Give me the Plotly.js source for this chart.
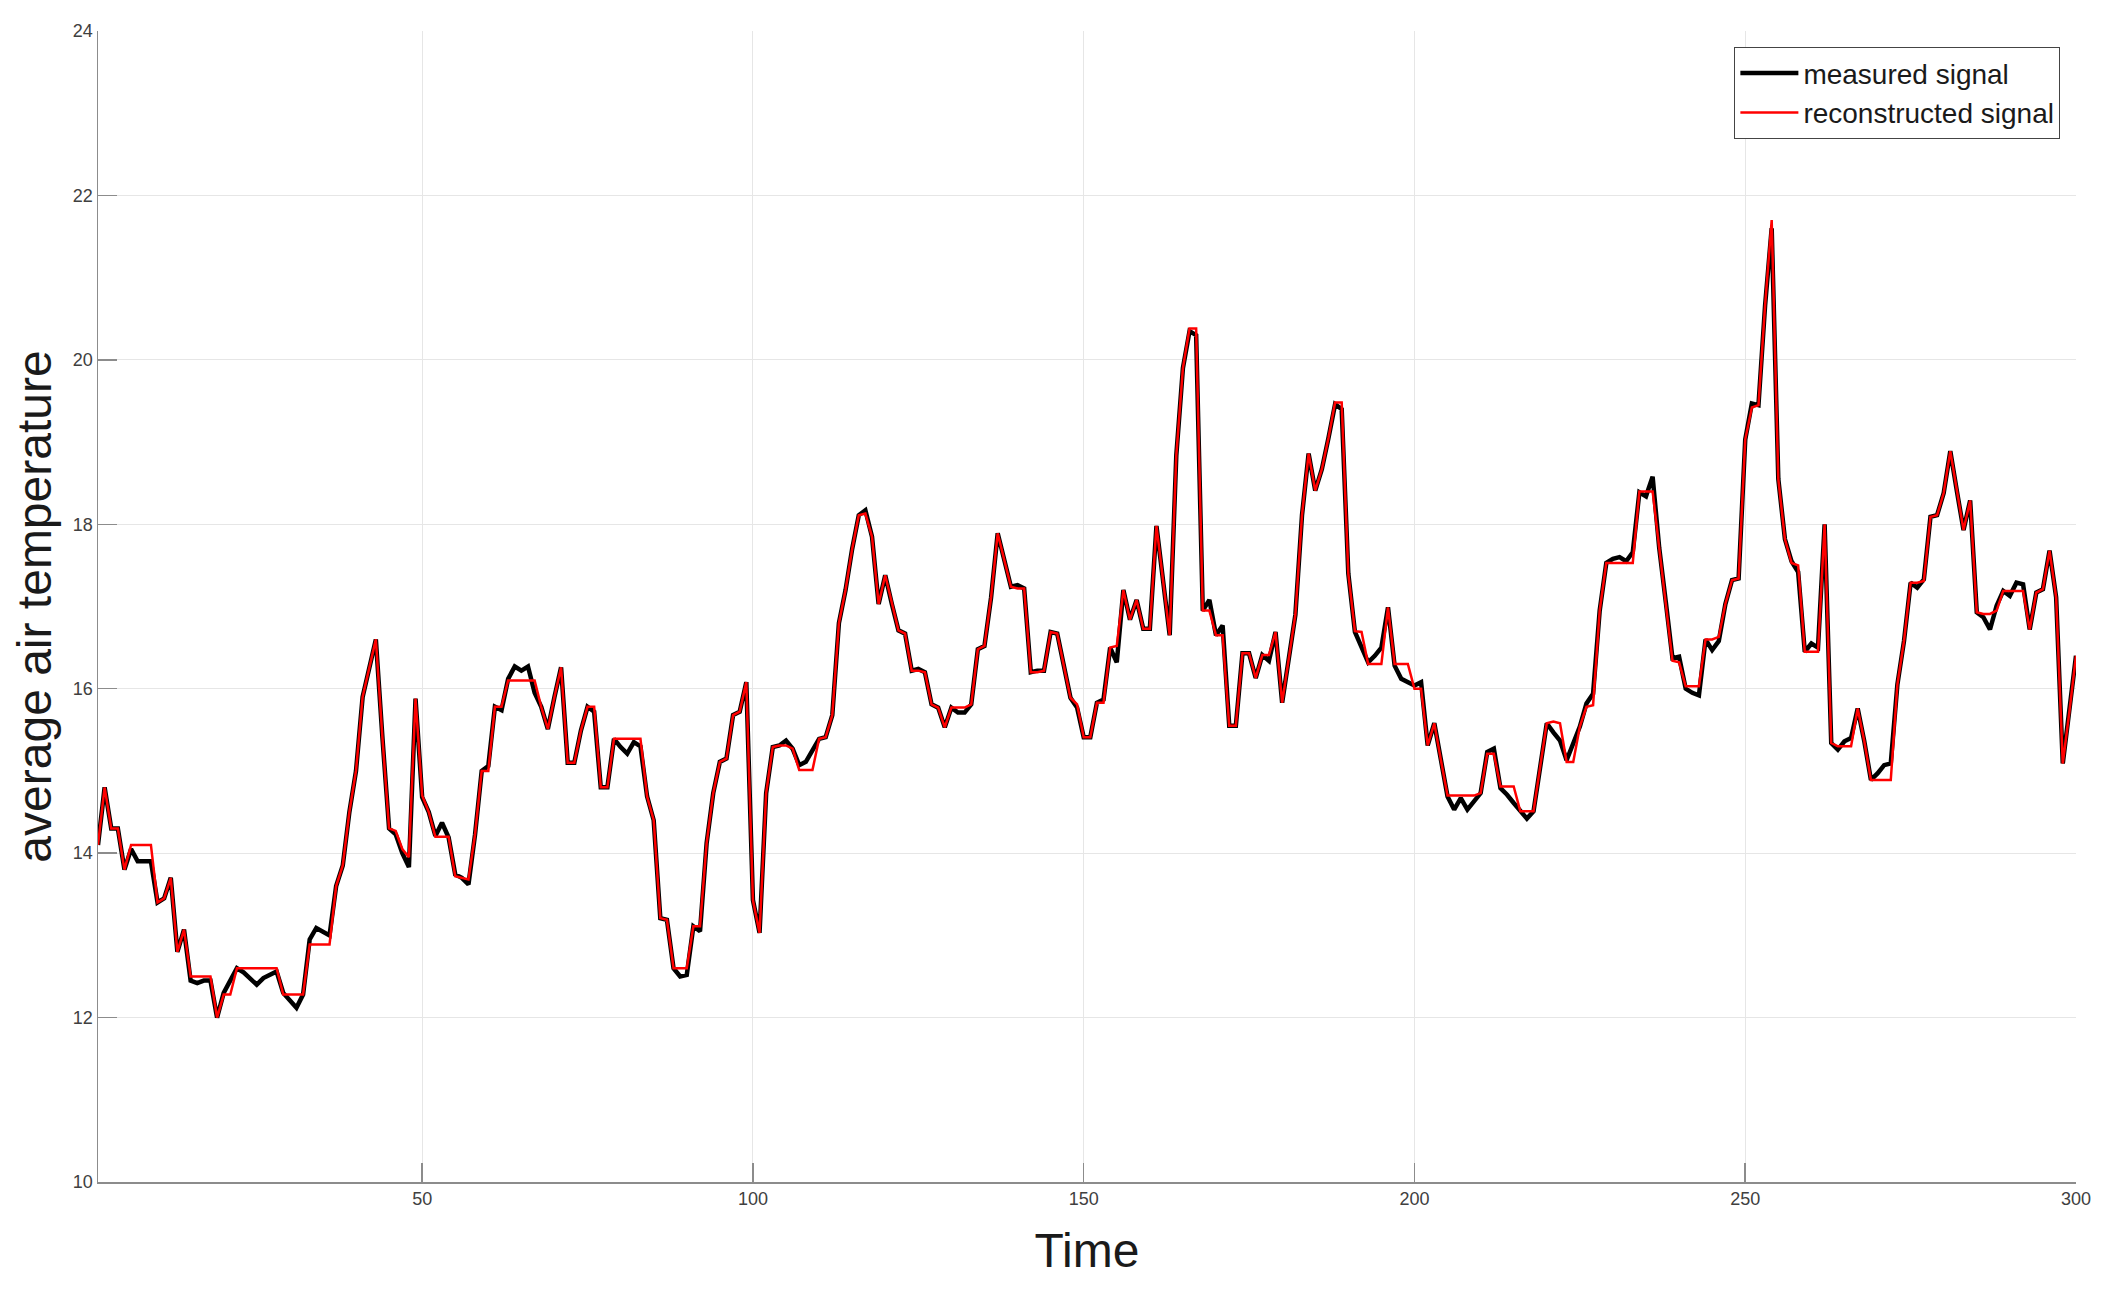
<!DOCTYPE html>
<html>
<head>
<meta charset="utf-8">
<script src="https://cdn.plot.ly/plotly-3.0.1.min.js"></script>
<style>html,body{margin:0;padding:0;background:#fff;}#chart{width:2113px;height:1291px;}</style>
</head>
<body>
<div id="chart"></div>
<script>
const seriesNames = ["measured signal", "reconstructed signal"];
const xTickValues = [50, 100, 150, 200, 250, 300];
const yTickValues = [10, 12, 14, 16, 18, 20, 22, 24];

const measured = [
  14.1, 14.8, 14.3, 14.3, 13.8, 14.05, 13.9, 13.9, 13.9, 13.4,
  13.45, 13.7, 12.8, 13.07, 12.45, 12.42, 12.45, 12.45, 12.0, 12.3,
  12.45, 12.6, 12.55, 12.48, 12.4, 12.48, 12.52, 12.56, 12.3, 12.2,
  12.12, 12.28, 12.95, 13.09, 13.05, 13.0, 13.6, 13.85, 14.5, 15.0,
  15.9, 16.26, 16.6, 15.4, 14.3, 14.23, 14.0, 13.83, 15.88, 14.68,
  14.5, 14.21, 14.37, 14.19, 13.74, 13.7, 13.62, 14.23, 15.0, 15.06,
  15.78, 15.74, 16.12, 16.27, 16.22, 16.27, 15.95, 15.78, 15.51, 15.9,
  16.26, 15.1, 15.1, 15.49, 15.78, 15.72, 14.8, 14.8, 15.39, 15.29,
  15.21, 15.35, 15.3, 14.69, 14.4, 13.21, 13.19, 12.6, 12.5, 12.52,
  13.11, 13.05, 14.12, 14.73, 15.11, 15.15, 15.68, 15.72, 16.08, 13.43,
  13.03, 14.73, 15.29, 15.31, 15.37, 15.27, 15.07, 15.11, 15.25, 15.39,
  15.41, 15.68, 16.8, 17.2, 17.7, 18.11, 18.17, 17.85, 17.03, 17.38,
  17.03, 16.71, 16.67, 16.22, 16.24, 16.2, 15.81, 15.77, 15.53, 15.77,
  15.71, 15.71, 15.81, 16.48, 16.52, 17.11, 17.89, 17.56, 17.24, 17.26,
  17.22, 16.2, 16.22, 16.22, 16.69, 16.67, 16.26, 15.89, 15.77, 15.41,
  15.41, 15.83, 15.87, 16.5, 16.32, 17.2, 16.84, 17.08, 16.73, 16.73,
  17.98, 17.3, 16.65, 18.84, 19.9, 20.35, 20.3, 16.95, 17.08, 16.65,
  16.77, 15.55, 15.55, 16.43, 16.43, 16.13, 16.41, 16.34, 16.69, 15.83,
  16.39, 16.9, 18.11, 18.86, 18.41, 18.67, 19.05, 19.46, 19.4, 17.4,
  16.69, 16.5, 16.32, 16.4, 16.5, 16.99, 16.28, 16.12, 16.08, 16.04,
  16.08, 15.31, 15.58, 15.13, 14.69, 14.53, 14.67, 14.53, 14.63, 14.73,
  15.23, 15.27, 14.79, 14.71, 14.61, 14.51, 14.42, 14.51, 15.05, 15.58,
  15.47, 15.37, 15.13, 15.33, 15.54, 15.82, 15.94, 16.95, 17.53, 17.58,
  17.6, 17.55, 17.66, 18.39, 18.34, 18.58, 17.71, 17.05, 16.37, 16.39,
  16.0, 15.95, 15.92, 16.6, 16.47, 16.58, 17.03, 17.32, 17.34, 19.03,
  19.47, 19.45, 20.66, 21.6, 18.55, 17.82, 17.55, 17.42, 16.45, 16.55,
  16.5, 18.0, 15.34, 15.26, 15.36, 15.4, 15.76, 15.36, 14.89, 14.97,
  15.07, 15.09, 16.05, 16.58, 17.29, 17.23, 17.33, 18.09, 18.11, 18.38,
  18.89, 18.4, 17.93, 18.29, 16.93, 16.87, 16.72, 17.01, 17.19, 17.13,
  17.29, 17.27, 16.72, 17.17, 17.21, 17.68, 17.11, 15.09, 15.72, 16.4
];

const reconstructed = [
  14.1, 14.8, 14.3, 14.3, 13.8, 14.1, 14.1, 14.1, 14.1, 13.4,
  13.45, 13.7, 12.8, 13.07, 12.5, 12.5, 12.5, 12.5, 12.0, 12.28,
  12.28, 12.6, 12.6, 12.6, 12.6, 12.6, 12.6, 12.6, 12.28, 12.28,
  12.28, 12.28, 12.89, 12.89, 12.89, 12.89, 13.6, 13.85, 14.5, 15.0,
  15.9, 16.26, 16.6, 15.4, 14.3, 14.27, 14.05, 13.95, 15.88, 14.7,
  14.5, 14.2, 14.2, 14.2, 13.72, 13.7, 13.68, 14.23, 15.0, 15.0,
  15.78, 15.78, 16.1, 16.1, 16.1, 16.1, 16.1, 15.78, 15.51, 15.9,
  16.26, 15.1, 15.1, 15.49, 15.78, 15.78, 14.8, 14.8, 15.39, 15.39,
  15.39, 15.39, 15.39, 14.69, 14.4, 13.21, 13.19, 12.6, 12.6, 12.6,
  13.11, 13.11, 14.12, 14.73, 15.11, 15.15, 15.68, 15.72, 16.08, 13.43,
  13.03, 14.73, 15.29, 15.31, 15.31, 15.27, 15.01, 15.01, 15.01, 15.39,
  15.41, 15.68, 16.8, 17.2, 17.7, 18.11, 18.13, 17.85, 17.03, 17.38,
  17.03, 16.71, 16.67, 16.22, 16.22, 16.2, 15.81, 15.77, 15.53, 15.77,
  15.77, 15.77, 15.81, 16.48, 16.52, 17.11, 17.89, 17.56, 17.24, 17.22,
  17.22, 16.2, 16.2, 16.22, 16.69, 16.67, 16.26, 15.89, 15.81, 15.41,
  15.41, 15.83, 15.83, 16.5, 16.52, 17.2, 16.84, 17.08, 16.73, 16.73,
  17.98, 17.3, 16.65, 18.84, 19.9, 20.38, 20.38, 16.95, 16.95, 16.65,
  16.65, 15.55, 15.55, 16.43, 16.43, 16.13, 16.41, 16.41, 16.69, 15.83,
  16.39, 16.9, 18.11, 18.86, 18.41, 18.67, 19.05, 19.48, 19.48, 17.4,
  16.7, 16.69, 16.3, 16.3, 16.3, 16.99, 16.3, 16.3, 16.3, 16.0,
  16.0, 15.31, 15.58, 15.13, 14.7, 14.7, 14.7, 14.7, 14.7, 14.73,
  15.21, 15.21, 14.81, 14.81, 14.81, 14.51, 14.51, 14.51, 15.05, 15.58,
  15.6, 15.58, 15.11, 15.11, 15.54, 15.78, 15.8, 16.95, 17.53, 17.53,
  17.53, 17.53, 17.53, 18.4, 18.4, 18.4, 17.71, 17.05, 16.34, 16.32,
  16.03, 16.03, 16.03, 16.6, 16.6, 16.63, 17.03, 17.32, 17.34, 19.03,
  19.42, 19.45, 20.66, 21.7, 18.55, 17.82, 17.53, 17.5, 16.45, 16.45,
  16.45, 18.0, 15.34, 15.3, 15.3, 15.3, 15.76, 15.36, 14.89, 14.89,
  14.89, 14.89, 16.05, 16.58, 17.29, 17.29, 17.31, 18.09, 18.11, 18.38,
  18.89, 18.4, 17.93, 18.29, 16.93, 16.91, 16.91, 16.95, 17.19, 17.19,
  17.19, 17.19, 16.72, 17.17, 17.21, 17.68, 17.11, 15.09, 15.72, 16.4
];

const time = measured.map((_, i) => i + 1);

const FONT = '"Liberation Sans", Arial, Helvetica, sans-serif';
const axisColor = '#8c8c8c';
const gridColor = '#e6e6e6';

const traces = [
  { x: time, y: measured, name: seriesNames[0], type: 'scatter', mode: 'lines',
    line: { color: '#000000', width: 4.5 } },
  { x: time, y: reconstructed, name: seriesNames[1], type: 'scatter', mode: 'lines',
    line: { color: '#ff0000', width: 2.5 } }
];

const commonAxis = {
  showline: true, linecolor: axisColor, linewidth: 1.5,
  ticks: 'inside', ticklen: 19, tickwidth: 1.5, tickcolor: axisColor,
  showgrid: true, gridcolor: gridColor, gridwidth: 1,
  zeroline: false, automargin: false, mirror: false,
  tickfont: { family: FONT, size: 18, color: '#404040' }
};

const layout = {
  width: 2113, height: 1291,
  margin: { l: 98, r: 37, t: 31, b: 109, pad: 0 },
  paper_bgcolor: '#ffffff', plot_bgcolor: '#ffffff',
  font: { family: FONT, color: '#262626' },
  showlegend: true,
  legend: {
    x: 0.992, y: 0.986, xanchor: 'right', yanchor: 'top',
    bgcolor: '#ffffff', bordercolor: '#444444', borderwidth: 1.2,
    font: { family: FONT, size: 28, color: '#1a1a1a' },
    itemwidth: 58,
    tracegroupgap: 0
  },
  xaxis: Object.assign({}, commonAxis, {
    range: [1, 300], tickmode: 'array', tickvals: xTickValues,
    ticktext: xTickValues.map(String),
    title: { text: 'Time', font: { family: FONT, size: 48, color: '#1a1a1a' }, standoff: 25 }
  }),
  yaxis: Object.assign({}, commonAxis, {
    range: [10, 24], tickmode: 'array', tickvals: yTickValues,
    ticktext: yTickValues.map(String),
    title: { text: 'average air temperature', font: { family: FONT, size: 48, color: '#1a1a1a' }, standoff: 6 }
  })
};

Plotly.newPlot('chart', traces, layout, { displayModeBar: false, staticPlot: true });
</script>
</body>
</html>
